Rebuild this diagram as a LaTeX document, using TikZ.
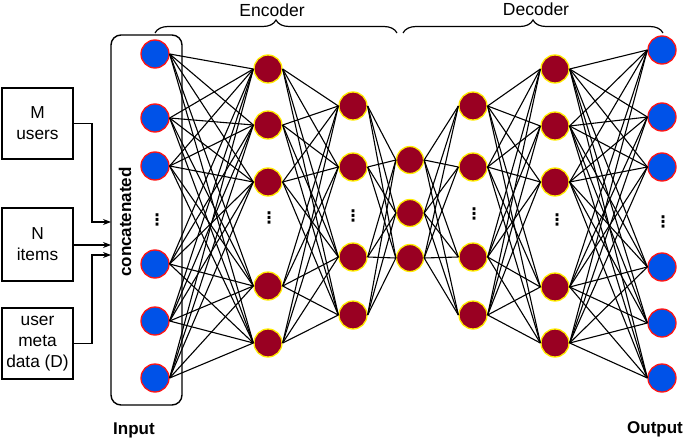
\documentclass[tikz,border=0pt]{standalone}
\usepackage{fontspec}
\setmainfont{Liberation Sans}
\newfontfamily\dejavu{DejaVu Sans}
\usetikzlibrary{decorations.pathreplacing,arrows.meta}
\definecolor{nblue}{RGB}{0,82,232}
\definecolor{ncrim}{RGB}{153,0,34}
\definecolor{nred}{RGB}{255,20,20}
\definecolor{nyel}{RGB}{255,236,0}
\begin{document}
\begin{tikzpicture}[x=1pt,y=-1pt,
  io/.style={circle,fill=nblue,draw=nred,line width=1.3pt,minimum size=28pt,inner sep=0pt},
  hid/.style={circle,fill=ncrim,draw=nyel,line width=1.3pt,minimum size=28pt,inner sep=0pt},
  conn/.style={line width=1.1pt,black},
  srcbox/.style={draw,line width=1.4pt,minimum width=71pt,align=center,inner sep=0pt,
    font=\fontsize{17.3}{21}\selectfont},
  arr/.style={line width=1.2pt,-{Stealth[length=8pt,width=6pt]}},
  bold17/.style={font=\bfseries\fontsize{17}{20}\selectfont},
  plain17/.style={font=\fontsize{17.5}{20}\selectfont},
  vdot/.style={font=\dejavu\bfseries\fontsize{16}{16}\selectfont,inner sep=0pt},
  brc/.style={line width=1.2pt,decorate,decoration={brace,amplitude=13pt}},
]
\useasboundingbox (0,0) rectangle (685,441);

% input container
\node[draw,rounded corners=10pt,line width=1.4pt,minimum width=71pt,minimum height=370pt,inner sep=0pt] (inbox) at (146.5,220) {};
\node[bold17,rotate=90] (cc) at (125,222) {concatenated};

% source boxes
\node[srcbox,minimum height=71pt] (m) at (37.5,123.5) {M\\users};
\node[srcbox,minimum height=73pt] (n) at (37.5,244.5) {N\\items};
\node[srcbox,minimum height=71pt] (u) at (37.5,343.5) {user\\meta\\data (D)};

\coordinate (in1) at (111,222);
\coordinate (in2) at (111,245);
\coordinate (in3) at (111,255);
\draw[arr] (m.east) -| (92,222) -- (in1);
\draw[arr] (n.east |- in2) -- (in2);
\draw[arr] (u.east) -| (92,255) -- (in3);

% layers
\foreach \y [count=\i] in {54,118,166,264,321,378} \node[io] (a\i) at (155,\y) {};
\foreach \y [count=\i] in {69,125,182,286,343} \node[hid] (b\i) at (268,\y) {};
\foreach \y [count=\i] in {106,167,257,315} \node[hid] (c\i) at (353,\y) {};
\foreach \y [count=\i] in {160,213,258} \node[hid,minimum size=27pt] (d\i) at (410,\y) {};
\foreach \y [count=\i] in {106,167,257,315} \node[hid] (e\i) at (473,\y) {};
\foreach \y [count=\i] in {69,126,182,287,343} \node[hid] (f\i) at (555,\y) {};
\foreach \y [count=\i] in {50,117,167,267,323,378} \node[io] (g\i) at (662,\y) {};

% dots
\node[vdot] (va) at (157,220) {⋮};
\node[vdot] (vb) at (269,218) {⋮};
\node[vdot] (vc) at (353,216) {⋮};
\node[vdot] (ve) at (474,214) {⋮};
\node[vdot] (vf) at (557,220) {⋮};
\node[vdot] (vg) at (663,222) {⋮};

% connections
\foreach \i in {1,...,6} \foreach \j in {1,...,5} \draw[conn] (a\i.east) -- (b\j.west);
\foreach \i in {1,...,5} \foreach \j in {1,...,4} \draw[conn] (b\i.east) -- (c\j.west);
\foreach \i in {1,...,4} \foreach \j in {1,...,3} \draw[conn] (c\i.east) -- (d\j.west);
\foreach \i in {1,...,3} \foreach \j in {1,...,4} \draw[conn] (d\i.east) -- (e\j.west);
\foreach \i in {1,...,4} \foreach \j in {1,...,5} \draw[conn] (e\i.east) -- (f\j.west);
\foreach \i in {1,...,5} \foreach \j in {1,...,6} \draw[conn] (f\i.east) -- (g\j.west);

% braces
\coordinate (e0) at (155,33);
\coordinate (e1) at (397,33);
\coordinate (d0) at (403,33);
\coordinate (d1) at (663,33);
\draw[brc] (e0) -- (e1);
\draw[brc] (d0) -- (d1);
\node[plain17] (enc) at (272,10) {Encoder};
\node[plain17] (dec) at (536,9) {Decoder};

% labels
\node[bold17] (inl) at (134,430) {Input};
\node[bold17] (outl) at (655,429) {Output};
\end{tikzpicture}
\end{document}
